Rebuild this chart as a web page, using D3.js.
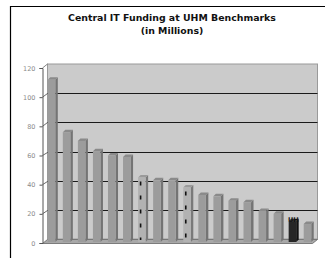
<!DOCTYPE html>
<html>
<head>
<meta charset="utf-8">
<script src="https://cdn.jsdelivr.net/npm/d3@7"></script>
<style>
  body { margin: 0; background: #fff; }
  svg { display: block; }
</style>
</head>
<body>
<div id="chart"></div>
<script>
// benchmark institutions, sorted by funding (names are not shown on the chart)
const categories = ["B1", "B2", "B3", "B4", "B5", "B6", "B7", "B8", "B9",
                    "B10", "B11", "B12", "B13", "B14", "B15", "B16", "UH", "B18"];
const funding = [112, 76, 70, 63, 60, 59, 45, 43, 43, 38, 33, 32, 29, 28, 22, 20, 15, 13];
// bar style: "n" normal, "d" dashed marker, "u" UH highlight
const barKind = ["n", "n", "n", "n", "n", "n", "d", "n", "n", "d", "n", "n", "n", "n", "n", "n", "u", "n"];
const yTicks = [0, 20, 40, 60, 80, 100, 120];

const width = 325, height = 258;
const depthX = 5, depthY = 4;   // 3d offset of the back wall

const svg = d3.select("#chart").append("svg")
    .attr("width", width).attr("height", height);

// outer frame (only left and top visible)
svg.append("path")
    .attr("d", "M10.5,258 V6.5 H325")
    .attr("fill", "none").attr("stroke", "#000").attr("stroke-width", 1.2);

// title
const title = svg.append("g")
    .attr("font-family", "DejaVu Sans").attr("font-weight", "bold").attr("font-size", 9.4)
    .attr("text-anchor", "middle").attr("fill", "#111");
title.append("text").attr("x", 172).attr("y", 21).text("Central IT Funding at UHM Benchmarks");
title.append("text").attr("x", 172).attr("y", 34).text("(in Millions)");

const y = d3.scaleLinear().domain([0, 120]).range([243, 68]);
const x = d3.scaleBand().domain(categories).range([44, 315]).paddingInner(0.5).paddingOuter(0.25);

const axisX = 42.5, wallL = axisX + depthX, wallR = 317.5;

// back wall
svg.append("rect")
    .attr("x", wallL).attr("y", y(120) - depthY)
    .attr("width", wallR - wallL).attr("height", y(0) - y(120))
    .attr("fill", "#cbcbcb").attr("stroke", "#9a9a9a");

// floor
svg.append("path")
    .attr("d", `M${axisX},${y(0) + 0.5} L${wallL},${y(0) - depthY + 0.5} L${wallR},${y(0) - depthY + 0.5} L${wallR - depthX},${y(0) + 0.5} Z`)
    .attr("fill", "#a8a8a8").attr("stroke", "#666").attr("stroke-width", 0.8);

// gridlines on the wall, with the small slant from the axis
const grid = svg.append("g");
yTicks.filter(d => d > 0 && d < 120).forEach(d => {
  const yy = Math.round(y(d) - depthY) + 0.5;
  grid.append("line").attr("x1", wallL).attr("x2", wallR).attr("y1", yy).attr("y2", yy)
      .attr("stroke", "#1a1a1a").attr("stroke-width", 1);
  grid.append("line").attr("x1", axisX).attr("y1", y(d)).attr("x2", wallL).attr("y2", yy)
      .attr("stroke", "#444").attr("stroke-width", 0.8);
});
svg.append("line").attr("x1", axisX).attr("y1", y(120)).attr("x2", wallL).attr("y2", y(120) - depthY)
    .attr("stroke", "#666").attr("stroke-width", 0.8);

// y axis
const yAxis = svg.append("g")
    .attr("transform", `translate(${axisX},0)`)
    .call(d3.axisLeft(y).tickValues(yTicks).tickSize(3).tickPadding(4));
yAxis.select(".domain").attr("stroke", "#555");
yAxis.selectAll(".tick line").attr("stroke", "#555");
yAxis.selectAll(".tick text")
    .attr("fill", "#8a8a8a").attr("font-family", "DejaVu Sans").attr("font-size", 6.5);

// bars: front face, right side, top
const faceColor = { n: "#9c9c9c", d: "#b2b2b2", u: "#262626" };
const sideColor = { n: "#747474", d: "#7a7a7a", u: "#111111" };
const topColor  = { n: "#8a8a8a", d: "#9a9a9a", u: "#333333" };
const sd = 2.5;   // bar depth offset

const bars = svg.append("g").selectAll("g")
    .data(categories.map((c, i) => ({ c, v: funding[i], k: barKind[i] })))
    .join("g");

bars.append("path")
    .attr("d", d => {
      const x0 = x(d.c) + x.bandwidth(), t = y(d.v), b = y(0) - 1;
      return `M${x0},${t} L${x0 + sd},${t - sd} L${x0 + sd},${b - sd} L${x0},${b} Z`;
    })
    .attr("fill", d => sideColor[d.k]);
bars.append("path")
    .attr("d", d => {
      const x0 = x(d.c), x1 = x0 + x.bandwidth(), t = y(d.v);
      return `M${x0},${t} L${x0 + sd},${t - sd} L${x1 + sd},${t - sd} L${x1},${t} Z`;
    })
    .attr("fill", d => topColor[d.k]);
bars.append("rect")
    .attr("x", d => x(d.c)).attr("y", d => y(d.v))
    .attr("width", x.bandwidth()).attr("height", d => y(0) - 1 - y(d.v))
    .attr("fill", d => faceColor[d.k]);

// dashed markers inside the marked bars
bars.filter(d => d.k === "d").append("line")
    .attr("x1", d => x(d.c) + 2.5).attr("x2", d => x(d.c) + 2.5)
    .attr("y1", d => y(d.v) + 4).attr("y2", y(0) - 3)
    .attr("stroke", "#111").attr("stroke-width", 1.6)
    .attr("stroke-dasharray", "4,10");

// UH label sitting on top of its bar
bars.filter(d => d.k === "u").append("text")
    .attr("x", d => x(d.c) + x.bandwidth() / 2 + 1).attr("y", d => y(d.v) + 1)
    .attr("text-anchor", "middle")
    .attr("font-family", "DejaVu Sans").attr("font-weight", "bold").attr("font-size", 6.5)
    .attr("fill", "#111")
    .text("UH");
</script>
</body>
</html>
